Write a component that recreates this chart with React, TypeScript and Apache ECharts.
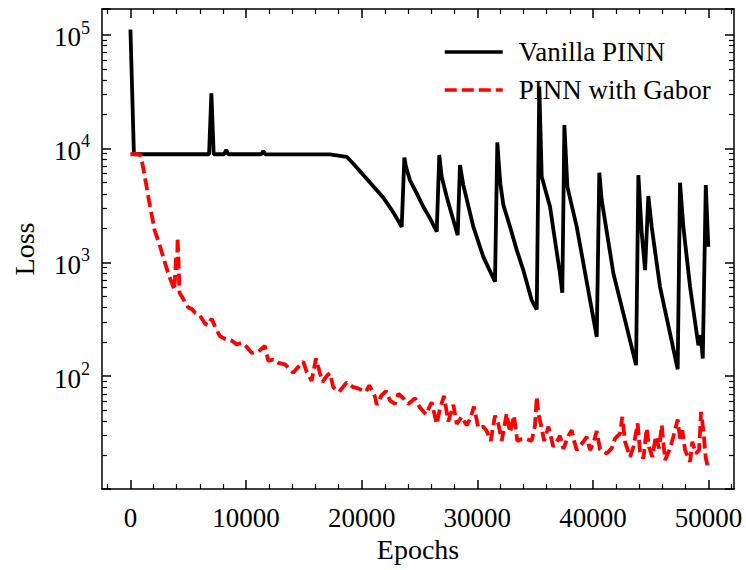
import React, { useEffect, useRef } from "react";
import * as echarts from "echarts";

const vanillaEpochs = [0, 300, 6800, 7000, 7200, 8100, 8290, 8450, 11300, 11490,
  11650, 17260, 18700, 19300, 20140, 21000, 21870, 22730, 23460, 23690,
  23830, 24170, 24760, 25330, 25910, 26490, 26710, 26920, 27350, 27930, 28300, 28500,
  28790, 29660, 30520, 31530, 31730, 31880, 31990, 32250, 32830, 33410, 33980, 34700,
  35140, 35360, 35570, 36290, 36700, 37150, 37350, 37530, 37790, 38600,
  39750, 40330, 40550, 40760, 41770, 42920, 43730, 43930, 44220, 44510,
  44790, 45080, 45800, 46670, 47330, 47530, 47820, 48400, 49120, 49320,
  49500, 49760, 49980];
const vanillaLoss = [111000, 8900, 8900, 30500, 8900, 8900, 9700, 8900, 8900, 9500,
  8900, 8870, 8450, 7300, 5840, 4650, 3700, 2750, 2050, 8340,
  6900, 5270, 4030, 3075, 2430, 1855, 8750, 5640, 3770, 2340, 1730, 7150,
  4770, 2050, 1117, 675, 11300, 6900, 4930, 3200, 2050, 1280, 853, 466,
  385, 35000, 5640, 3080, 1600, 798, 540, 16070, 4600, 2050,
  466, 221, 6120, 3520, 798, 271, 125, 5840, 1800, 853,
  3820, 2050, 609, 237, 115, 5000, 2050, 609, 187, 229,
  143, 4770, 1370];

const gaborEpochs = [0, 500, 900, 1250, 1600, 2100, 2500, 2850, 3300, 3700,
  3800, 3950, 4020, 4080, 4250, 4600, 5000, 5290, 5600, 6010,
  6440, 6700, 7020, 7400, 7740, 8200, 8750, 9200, 9620, 10050,
  10480, 11060, 11630, 11920, 12360, 12790, 13370, 14080, 14520, 14950,
  15240, 15670, 16050, 16390, 16620, 17030, 17260, 17540, 18060, 18700,
  19270, 19700, 20370, 20660, 21150, 21300, 21730, 22110, 22450, 22880,
  23170, 23600, 24030, 24610, 25040, 25560, 26050, 26490, 26770, 27120,
  27490, 27930, 28220, 28650, 29080, 29370, 29710, 30090, 30520, 30810,
  31160, 31530, 31820, 32110, 32540, 32830, 33170, 33460, 33840, 34270,
  34700, 34990, 35140, 35280, 35490, 35780, 36150, 36570, 36870, 37150,
  37440, 37880, 38160, 38370, 38600, 39170, 39460, 39750, 40030, 40330,
  40610, 41190, 41620, 41910, 42340, 42540, 42780, 43210, 43500, 43870,
  44070, 44360, 44650, 44850, 45140, 45430, 45720, 45950, 46240, 46670,
  46950, 47330, 47530, 47730, 47970, 48400, 48600, 48890, 49180, 49350,
  49550, 49760, 49930, 50000];
const gaborLoss = [8900, 8950, 8700, 5600, 3500, 1900, 1450, 1100, 780, 610,
  570, 1150, 820, 1650, 540, 470, 400, 390, 360, 340,
  290, 280, 320, 260, 225, 212, 205, 190, 196, 181,
  160, 164, 184, 136, 140, 131, 127, 107, 121, 134,
  109, 91, 143, 106, 89, 102, 106, 80, 73, 88,
  80, 78, 73, 83, 66, 56, 68, 74, 61, 57,
  70, 64, 57, 64, 53, 46, 59, 38, 52, 67,
  40, 56, 38, 44, 37, 42, 54, 35, 36, 33,
  27, 45, 38, 27, 47, 32, 45, 27, 28, 28,
  27, 37, 66, 47, 38, 27, 36, 24, 26.5, 30,
  23, 30, 33.5, 27, 22.4, 26.5, 29.3, 22.4, 25.6, 33,
  22.7, 20.9, 23.2, 28.3, 31.3, 43.9, 26.5, 19.5, 23.9, 38.4,
  21.6, 18.9, 34.7, 23.9, 19.5, 29.7, 23.2, 37, 18.3, 23.2,
  29.3, 41.6, 28.3, 33.5, 22.4, 17.7, 26.5, 20.9, 22.4, 48.5,
  33.5, 18.9, 16.2, 16.9];

const xMajorTicks = [0, 10000, 20000, 30000, 40000, 50000];
const xMinorTicks = [-2000, 2000, 4000, 6000, 8000, 12000, 14000, 16000, 18000,
  22000, 24000, 26000, 28000, 32000, 34000, 36000, 38000, 42000, 44000, 46000, 48000, 52000];
const yMinorTicks = [20, 30, 40, 50, 60, 70, 80, 90, 200, 300, 400, 500, 600, 700, 800, 900,
  2000, 3000, 4000, 5000, 6000, 7000, 8000, 9000, 20000, 30000, 40000, 50000, 60000, 70000, 80000, 90000];

const X_MIN = -2460;
const X_MAX = 52200;
const Y_MIN = 10.2;
const Y_MAX = 168000;

const FONT = "'Liberation Serif', 'Times New Roman', serif";

export default function App() {
  const ref = useRef<HTMLDivElement>(null);
  useEffect(() => {
    if (!ref.current) return;
    const chart = echarts.init(ref.current, null, { renderer: "svg" });
    const lineCol = "#000";
    const axisLine = { show: true, onZero: false, lineStyle: { color: lineCol, width: 1.5 } };
    const noLine = { show: false, onZero: false };
    const majorTick = (vals?: number[]) => ({
      show: true, inside: true, length: 9,
      lineStyle: { color: lineCol, width: 1.5 },
      ...(vals ? { customValues: vals } : {}),
    });
    const minorTick = (vals: number[]) => ({
      show: true, inside: true, length: 5,
      lineStyle: { color: lineCol, width: 1.2 },
      customValues: vals,
    });
    const logMinor = yMinorTicks.map((v) => Math.log10(v));
    const yLabelFmt = (v: number) => {
      const l = Math.log10(v);
      const e = Math.round(l);
      if (Math.abs(l - e) > 1e-6) return "";
      return `{b|10}{s|${e}}`;
    };
    const option: any = {
      animation: false,
      backgroundColor: "#fff",
      grid: { left: 102, right: 12, top: 9, bottom: 81, containLabel: false, outerBoundsMode: "none" },
      legend: {
        orient: "vertical",
        left: 438,
        top: 32,
        itemWidth: 58,
        itemHeight: 20,
        itemGap: 8,
        data: ["Vanilla PINN", "PINN with Gabor"],
        itemStyle: { opacity: 0, borderWidth: 0, color: "rgba(0,0,0,0)" },
        lineStyle: { width: 3.5 },
        textStyle: { fontSize: 27, fontFamily: FONT, color: "#000", lineHeight: 30, padding: [0, 0, 0, 11] },
      },
      xAxis: [
        {
          type: "value", position: "bottom", min: X_MIN, max: X_MAX,
          axisLine, axisTick: majorTick(xMajorTicks), splitLine: { show: false },
          axisLabel: {
            customValues: xMajorTicks, margin: 15, fontSize: 27, fontFamily: FONT, color: "#000",
            formatter: (v: number) => String(v),
          },
          name: "Epochs", nameLocation: "middle", nameGap: 43,
          nameTextStyle: { fontSize: 28, fontFamily: FONT, color: "#000" },
        },
        {
          type: "value", position: "bottom", min: X_MIN, max: X_MAX,
          axisLine: noLine, axisTick: minorTick(xMinorTicks), axisLabel: { show: false }, splitLine: { show: false },
        },
        {
          type: "value", position: "top", min: X_MIN, max: X_MAX,
          axisLine, axisTick: majorTick(xMajorTicks), axisLabel: { show: false }, splitLine: { show: false },
        },
        {
          type: "value", position: "top", min: X_MIN, max: X_MAX,
          axisLine: noLine, axisTick: minorTick(xMinorTicks), axisLabel: { show: false }, splitLine: { show: false },
        },
      ],
      yAxis: [
        {
          type: "log", logBase: 10, position: "left", min: Y_MIN, max: Y_MAX,
          axisLine, axisTick: majorTick(), splitLine: { show: false }, minorTick: { show: false },
          axisLabel: {
            formatter: yLabelFmt, margin: 12, color: "#000",
            rich: {
              b: { fontSize: 27, fontFamily: FONT, color: "#000", lineHeight: 32, verticalAlign: "bottom" },
              s: { fontSize: 18, fontFamily: FONT, color: "#000", lineHeight: 18, verticalAlign: "top" },
            },
          },
          name: "Loss", nameLocation: "middle", nameGap: 64,
          nameTextStyle: { fontSize: 28, fontFamily: FONT, color: "#000" },
        },
        {
          type: "value", position: "left", min: Math.log10(Y_MIN), max: Math.log10(Y_MAX),
          axisLine: noLine, axisTick: minorTick(logMinor), axisLabel: { show: false }, splitLine: { show: false },
        },
        {
          type: "log", logBase: 10, position: "right", min: Y_MIN, max: Y_MAX,
          axisLine, axisTick: majorTick(), axisLabel: { show: false }, splitLine: { show: false },
        },
        {
          type: "value", position: "right", min: Math.log10(Y_MIN), max: Math.log10(Y_MAX),
          axisLine: noLine, axisTick: minorTick(logMinor), axisLabel: { show: false }, splitLine: { show: false },
        },
      ],
      series: [
        {
          name: "Vanilla PINN", type: "line", xAxisIndex: 0, yAxisIndex: 0,
          data: vanillaEpochs.map((e, i) => [e, vanillaLoss[i]]),
          showSymbol: false, symbol: "none",
          lineStyle: { color: "#000", width: 3.8 },
          itemStyle: { color: "#000" },
        },
        {
          name: "PINN with Gabor", type: "line", xAxisIndex: 0, yAxisIndex: 0,
          data: gaborEpochs.map((e, i) => [e, gaborLoss[i]]),
          showSymbol: false, symbol: "none",
          lineStyle: { color: "#ff0000", width: 3.8, type: [12, 5] },
          itemStyle: { color: "#ff0000" },
        },
      ],
    };
    chart.setOption(option);
    return () => chart.dispose();
  }, []);
  return (
    <div
      ref={ref}
      style={{ position: "fixed", left: 0, top: 0, width: 746, height: 570, background: "#fff" }}
    />
  );
}
